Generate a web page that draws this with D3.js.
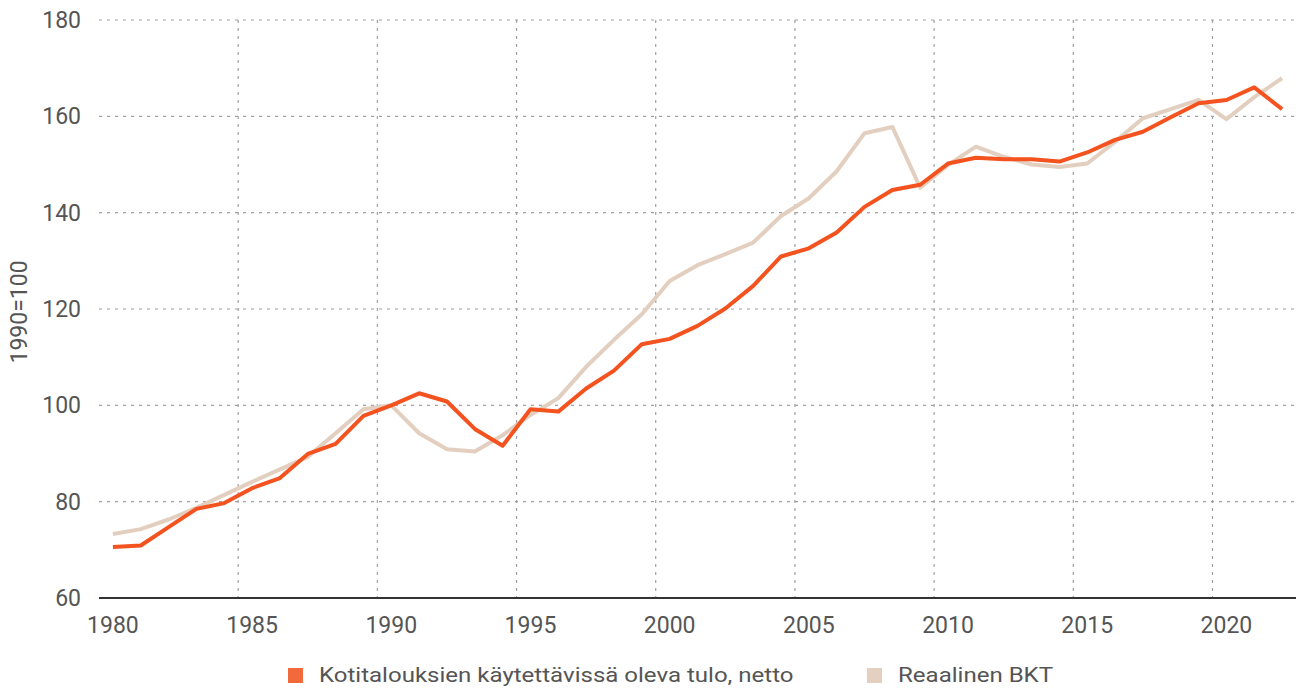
<!DOCTYPE html>
<html><head><meta charset="utf-8">
<script src="https://cdn.jsdelivr.net/npm/d3@7"></script>
<style>
body{margin:0;background:#fff;}
text{font-family:Roboto, "Noto Sans", sans-serif;fill:#555;}
</style></head>
<body><svg id="c" width="1298" height="688"></svg>
<script>
const years = d3.range(1980, 2023);
const incomeSeries = [70.6,70.9,74.7,78.5,79.7,82.8,84.9,89.9,92.0,97.8,100.0,102.5,100.8,95.1,91.6,99.2,98.7,103.5,107.2,112.7,113.8,116.5,120.1,124.8,130.9,132.6,135.9,141.2,144.7,145.8,150.2,151.4,151.1,151.1,150.6,152.5,155.1,156.8,159.8,162.7,163.4,166.0,161.5];
const gdpSeries = [73.3,74.3,76.3,78.7,81.4,84.1,86.7,89.3,94.2,99.2,100.0,94.2,90.9,90.4,93.8,98.0,101.5,108.0,113.6,118.9,125.8,129.1,131.4,133.8,139.3,143.0,148.6,156.5,157.8,145.2,149.9,153.7,151.6,150.0,149.5,150.2,154.7,159.6,161.5,163.4,159.4,164.0,167.9];
const yTicks = [60,80,100,120,140,160,180];
const xTicks = [1980,1985,1990,1995,2000,2005,2010,2015,2020];
const seriesNames = ["Kotitalouksien käytettävissä oleva tulo, netto","Reaalinen BKT"];
const lineColors = ["#f4521f","#e3cfbf"];
const swatchColors = ["#f26a3b","#e3d0c1"];
const yTitle = "1990=100";

const svg = d3.select("#c");
const x = d3.scaleLinear().domain([1980,2023]).range([99,1296]);
const y = d3.scaleLinear().domain([60,180]).range([598,20]);

svg.append("g").selectAll("line").data(yTicks.filter(t=>t>60)).join("line")
  .attr("x1",x(1980)).attr("x2",x(2023)).attr("y1",d=>y(d)).attr("y2",d=>y(d))
  .attr("stroke","#a0a0a0").attr("stroke-width",1.2).attr("stroke-dasharray","3,5");
svg.append("g").selectAll("line").data(xTicks.filter(t=>t>1980)).join("line")
  .attr("x1",d=>x(d)).attr("x2",d=>x(d)).attr("y1",y(180)).attr("y2",y(60))
  .attr("stroke","#a0a0a0").attr("stroke-width",1.2).attr("stroke-dasharray","3,5");

svg.append("g").selectAll("text").data(yTicks).join("text")
  .attr("x",81).attr("y",d=>y(d)).attr("dy","0.35em").attr("text-anchor","end")
  .attr("font-size",23).text(d=>d);
svg.append("g").selectAll("text").data(xTicks).join("text")
  .attr("x",d=>x(d+0.5)).attr("y",633).attr("text-anchor","middle")
  .attr("font-size",23).text(d=>d);
svg.append("text").attr("transform","translate(27,312) rotate(-90)")
  .attr("text-anchor","middle").attr("font-size",23).text(yTitle);

svg.append("line").attr("x1",x(1980)).attr("x2",x(2023)).attr("y1",y(60)).attr("y2",y(60))
  .attr("stroke","#333").attr("stroke-width",2.2);

const line = d3.line().x((d,i)=>x(years[i]+0.5)).y(d=>y(d));
[gdpSeries, incomeSeries].forEach((s,k)=>{
  const ci = k===0?1:0;
  svg.append("path").datum(s).attr("d",line).attr("fill","none")
    .attr("stroke",lineColors[ci]).attr("stroke-width",4).attr("stroke-linejoin","round");
});

const legX = [288, 867];
seriesNames.forEach((n,i)=>{
  svg.append("rect").attr("x",legX[i]).attr("y",668).attr("width",15).attr("height",15).attr("fill",swatchColors[i]);
  svg.append("text").attr("transform",`translate(${legX[i]+31},682) scale(1.145,1)`)
    .attr("font-size",21).text(n);
});
</script></body></html>
